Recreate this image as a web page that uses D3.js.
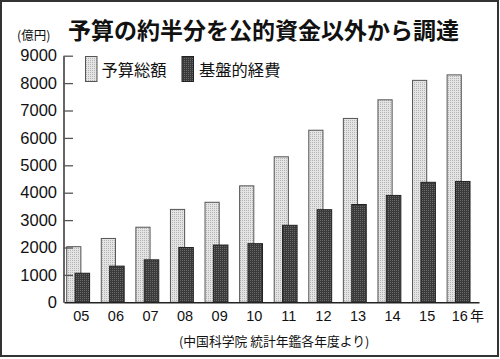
<!DOCTYPE html>
<html><head><meta charset="utf-8">
<script src="https://cdn.jsdelivr.net/npm/d3@7"></script>
<style>
html,body{margin:0;padding:0;background:#fff;}
svg{display:block;}
</style></head>
<body>
<svg id="chart" width="500" height="359"></svg>
<script>
const categories = ["05","06","07","08","09","10","11","12","13","14","15","16"];
const totalBudget = [2030, 2330, 2740, 3390, 3650, 4250, 5310, 6280, 6710, 7390, 8100, 8300];
const basicCost   = [1060, 1320, 1550, 2000, 2090, 2140, 2810, 3380, 3570, 3900, 4380, 4410];
const yTicks = [0,1000,2000,3000,4000,5000,6000,7000,8000,9000];
const seriesNames = ["予算総額", "基盤的経費"];
const titleText = "予算の約半分を公的資金以外から調達";
const unitText = "(億円)";
const sourceText = "(中国科学院 統計年鑑各年度より)";
const yearSuffix = "年";

const svg = d3.select("#chart");
const jp = "'Noto Sans CJK JP', 'Noto Sans', sans-serif";
const num = "'Liberation Sans', Arial, sans-serif";

// patterns
const defs = svg.append("defs");
const pl = defs.append("pattern").attr("id","pLight").attr("width",2).attr("height",2).attr("patternUnits","userSpaceOnUse");
pl.append("rect").attr("width",2).attr("height",2).attr("fill","#e4e4e4");
pl.append("rect").attr("width",1).attr("height",1).attr("fill","#b4b4b4");
const pd = defs.append("pattern").attr("id","pDark").attr("width",2).attr("height",2).attr("patternUnits","userSpaceOnUse");
pd.append("rect").attr("width",2).attr("height",2).attr("fill","#3a3a3a");
pd.append("rect").attr("width",1).attr("height",1).attr("fill","#6a6a6a");

// frame
svg.append("rect").attr("x",1).attr("y",1).attr("width",497).attr("height",355)
  .attr("fill","none").attr("stroke","#333").attr("stroke-width",2);

const x = d3.scaleBand().domain(categories).range([64, 479]).padding(0);
const y = d3.scaleLinear().domain([0, 9000]).range([302.3, 55.7]);
const bw = x.bandwidth();

// bars
const g = svg.append("g");
g.selectAll("rect.tot").data(categories).join("rect").attr("class","tot")
  .attr("x", d => x(d) + bw*0.078)
  .attr("y", (d,i) => y(totalBudget[i]))
  .attr("width", bw*0.41)
  .attr("height", (d,i) => y(0) - y(totalBudget[i]))
  .attr("fill","url(#pLight)").attr("stroke","#555").attr("stroke-width",1);
g.selectAll("rect.bas").data(categories).join("rect").attr("class","bas")
  .attr("x", d => x(d) + bw*0.32)
  .attr("y", (d,i) => y(basicCost[i]))
  .attr("width", bw*0.42)
  .attr("height", (d,i) => y(0) - y(basicCost[i]))
  .attr("fill","url(#pDark)").attr("stroke","#222").attr("stroke-width",1);

// y axis
const ya = svg.append("g").attr("transform","translate(63.5,0)")
  .call(d3.axisLeft(y).tickValues(yTicks).tickSize(-9.5).tickSizeOuter(0).tickPadding(6.5).tickFormat(d3.format("d")));
ya.select(".domain").attr("stroke","#333").attr("stroke-width",1.5);
ya.selectAll(".tick line").attr("stroke","#555").attr("stroke-width",1.3);
ya.selectAll(".tick").filter(d => d === 0).select("line").remove();
ya.selectAll("text").attr("font-family",num).attr("font-size",16.5).attr("fill","#111");

// x axis
const xa = svg.append("g").attr("transform","translate(0,302.3)")
  .call(d3.axisBottom(x).tickSize(0).tickSizeOuter(0).tickPadding(8));
xa.select(".domain").attr("stroke","#222").attr("stroke-width",1.5);
xa.selectAll("text").attr("font-family",num).attr("font-size",14.5).attr("fill","#111");
xa.selectAll(".tick").filter(d => d === "16").select("text").attr("dx", -2);

svg.append("text").attr("x",470).attr("y",320.5).attr("font-family",jp).attr("font-size",14).attr("fill","#111").text(yearSuffix);

// title
svg.append("text").attr("x",68).attr("y",38.5).attr("font-family",jp).attr("font-weight","bold")
  .attr("font-size",23).attr("fill","#111").text(titleText);
svg.append("text").attr("x",17).attr("y",39.5).attr("font-family",jp).attr("font-size",12.5).attr("fill","#111").text(unitText);

// legend
const legendX = [85, 181.5];
const textX = [101.5, 199];
[0,1].forEach(i => {
  svg.append("rect").attr("x",legendX[i]+0.5).attr("y",56.5).attr("width",11.5).attr("height",25)
    .attr("fill", i===0 ? "url(#pLight)" : "url(#pDark)").attr("stroke", i===0 ? "#555" : "#222");
  svg.append("text").attr("x",textX[i]).attr("y",76).attr("font-family",jp).attr("font-size",16.3)
    .attr("fill","#111").text(seriesNames[i]);
});

// source
svg.append("text").attr("x",179).attr("y",346).attr("font-family",jp).attr("font-size",12.8).attr("fill","#111").text(sourceText);
</script>
</body></html>
